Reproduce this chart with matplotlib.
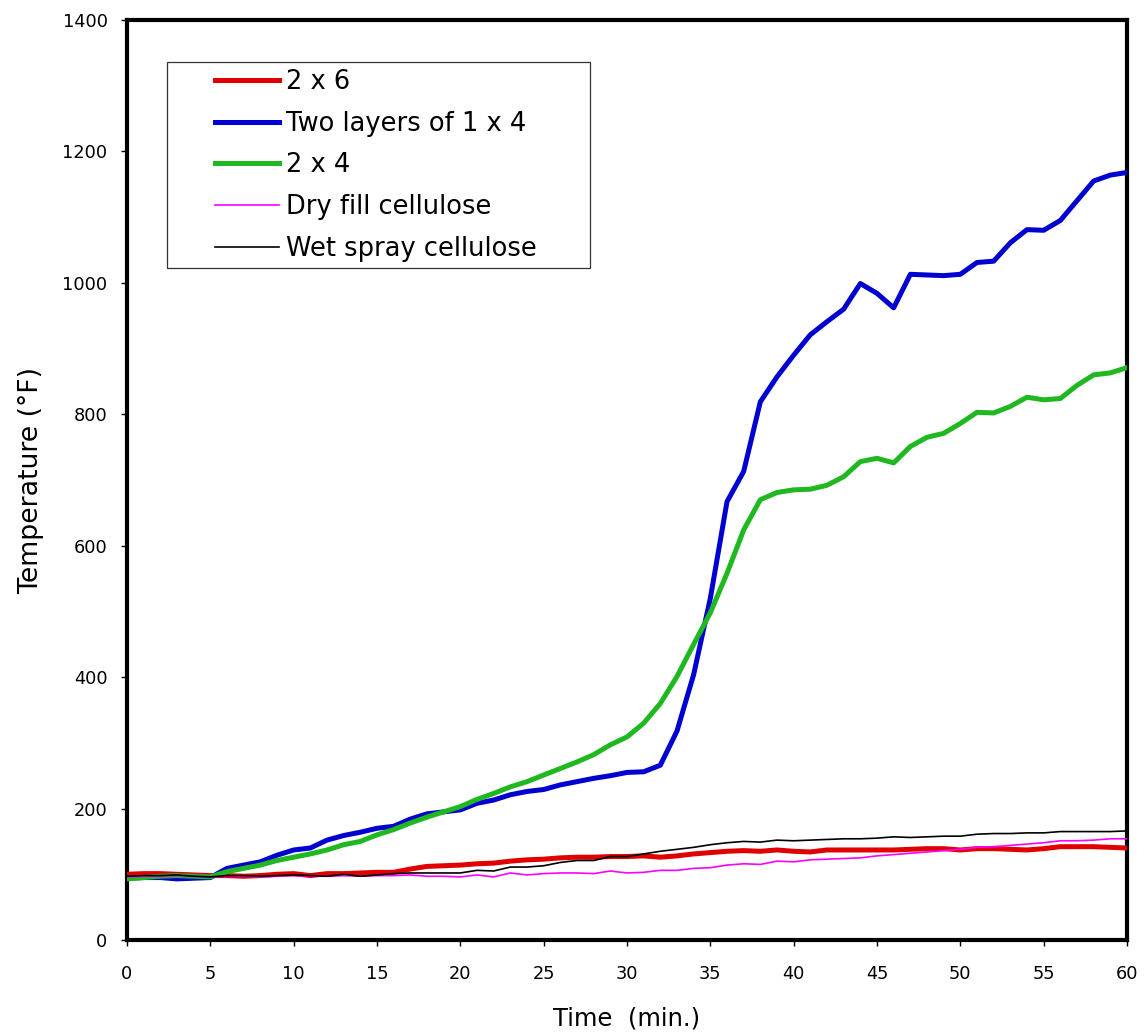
import matplotlib
matplotlib.use("Agg")
import matplotlib.pyplot as plt
from matplotlib.patches import Rectangle

plt.rcParams['font.family'] = ['DejaVu Sans']

time_min = list(range(0, 61))

two_by_six = [100, 101, 101, 100, 99, 98, 98, 97, 98, 100, 101, 98, 101, 101, 102, 103,
              103, 108, 112, 113, 114, 116, 117, 120, 122, 123, 125, 126, 126, 127, 127,
              128, 126, 128, 131, 133, 135, 136, 135, 137, 135, 134, 137, 137, 137, 137,
              137, 138, 139, 139, 137, 139, 139, 138, 137, 139, 142, 142, 142, 141, 140]

two_layers_1x4 = [94, 95, 95, 93, 94, 95, 109, 114, 119, 129, 137, 140, 152, 159, 164, 170,
                  173, 184, 192, 195, 198, 208, 213, 221, 226, 229, 236, 241, 246, 250, 255,
                  256, 266, 318, 404, 520, 667, 713, 819, 857, 890, 921, 941, 960, 999, 984,
                  962, 1013, 1012, 1011, 1013, 1031, 1033, 1061, 1081, 1080, 1095, 1125,
                  1155, 1164, 1168]

two_by_four = [93, 95, 97, 98, 97, 96, 104, 109, 114, 121, 126, 131, 137, 145, 150, 160,
               168, 178, 187, 195, 203, 214, 223, 233, 241, 251, 261, 271, 282, 297, 309,
               330, 360, 401, 450, 498, 558, 624, 670, 681, 685, 686, 692, 705, 728, 733,
               726, 751, 765, 771, 786, 803, 802, 812, 826, 822, 824, 844, 860, 863, 871]

dry_fill = [96, 97, 97, 98, 97, 96, 97, 97, 96, 97, 98, 97, 97, 98, 97, 98,
            98, 99, 97, 97, 96, 99, 96, 102, 99, 101, 102, 102, 101, 105, 102,
            103, 106, 106, 109, 110, 114, 116, 115, 120, 119, 122, 123, 124, 125, 128,
            130, 132, 134, 136, 138, 141, 142, 144, 146, 148, 151, 151, 152, 154, 154]

wet_spray = [97, 98, 98, 99, 97, 96, 98, 98, 97, 98, 99, 98, 97, 100, 97, 99,
             101, 102, 102, 102, 102, 106, 105, 111, 111, 113, 118, 121, 121, 127, 127,
             131, 135, 138, 141, 145, 148, 150, 149, 152, 151, 152, 153, 154, 154, 155,
             157, 156, 157, 158, 158, 161, 162, 162, 163, 163, 165, 165, 165, 165, 166]

series_labels = ["2 x 6", "Two layers of 1 x 4", "2 x 4", "Dry fill cellulose", "Wet spray cellulose"]
x_ticks = list(range(0, 61, 5))
y_ticks = list(range(0, 1401, 200))

W, H = 1144, 1036
fig = plt.figure(figsize=(W / 100, H / 100), dpi=100)
ax = fig.add_axes([127 / W, 1 - 940 / H, 1000 / W, 920 / H])

ax.plot(time_min, two_by_six, color='#e00000', lw=3.6, label=series_labels[0], zorder=3)
ax.plot(time_min, two_layers_1x4, color='#0000d0', lw=3.6, label=series_labels[1], zorder=4)
ax.plot(time_min, two_by_four, color='#20b820', lw=3.6, label=series_labels[2], zorder=4)
ax.plot(time_min, dry_fill, color='#ff00ff', lw=1.2, label=series_labels[3], zorder=5)
ax.plot(time_min, wet_spray, color='black', lw=1.2, label=series_labels[4], zorder=5)

ax.set_xlim(0, 60)
ax.set_ylim(0, 1400)
ax.set_xticks(x_ticks)
ax.set_yticks(y_ticks)
ax.tick_params(axis='both', direction='out', length=4, width=1, labelsize=12.8)
ax.tick_params(axis='x', pad=14)
ax.tick_params(axis='y', pad=10)
for s in ax.spines.values():
    s.set_linewidth(3)
    s.set_color('black')

ax.set_xlabel("Time  (min.)", fontsize=17.5, labelpad=17)
ax.set_ylabel("Temperature (°F)", fontsize=19.3, labelpad=13)

leg = ax.legend(loc='upper left', bbox_to_anchor=(215 / W, 1 - 69 / H),
                bbox_transform=fig.transFigure, frameon=False, fontsize=18.5,
                handlelength=2.5, handletextpad=0.25, labelspacing=0.61, borderpad=0,
                borderaxespad=0)

fig.patches.append(Rectangle((167 / W, 1 - 268 / H), (590 - 167) / W, (268 - 62) / H,
                             transform=fig.transFigure, fill=False, edgecolor='#333333',
                             lw=0.9, zorder=10))

fig.savefig("out.png", dpi=100)
